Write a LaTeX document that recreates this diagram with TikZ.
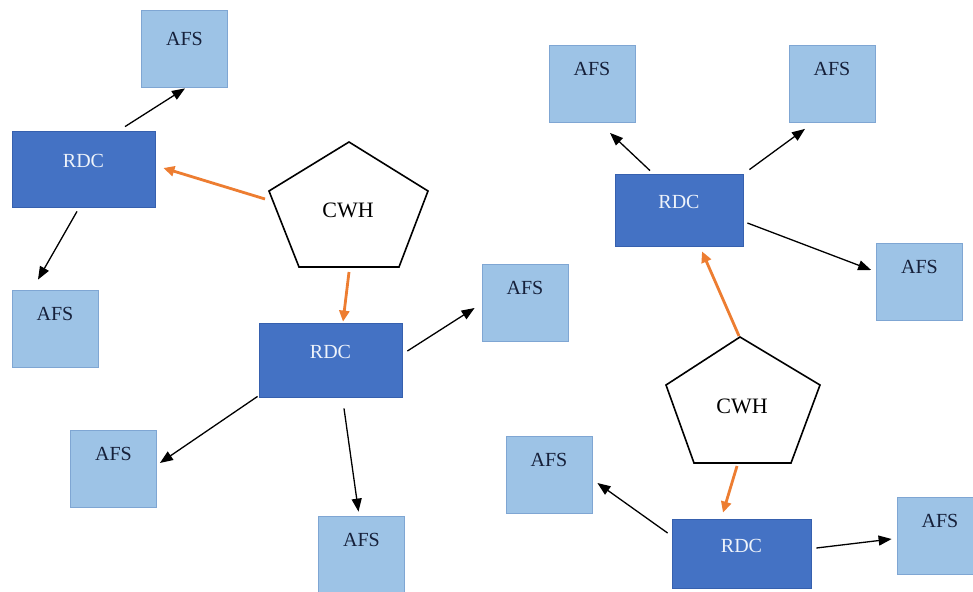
\documentclass[tikz,border=0pt]{standalone}
\usepackage{fontspec}
\setmainfont{Liberation Serif}
\usetikzlibrary{arrows.meta}
\definecolor{afsfill}{HTML}{9DC3E6}
\definecolor{afsdraw}{HTML}{7FA6D3}
\definecolor{rdcfill}{HTML}{4472C4}
\definecolor{rdcdraw}{HTML}{3660AE}
\definecolor{afstext}{HTML}{16203A}
\definecolor{rdctext}{HTML}{EEF3FA}
\definecolor{orng}{HTML}{ED7D31}
\begin{document}
\begin{tikzpicture}[x=1pt,y=-1pt,
  afsbox/.style={rectangle,fill=afsfill,draw=afsdraw,line width=0.8pt,
    minimum width=86pt,minimum height=77pt,inner sep=0pt,text=afstext,
    font=\fontsize{20}{24}\selectfont,text height=7pt,text depth=23.8pt},
  rdcbox/.style={rectangle,fill=rdcfill,draw=rdcdraw,line width=0.8pt,
    minimum width=143pt,minimum height=75pt,inner sep=0pt,text=rdctext,
    font=\fontsize{20}{24}\selectfont,text height=7pt,text depth=9.8pt},
  cwhtext/.style={inner sep=0pt,font=\fontsize{22}{26}\selectfont},
  penta/.style={draw=black,line width=1.6pt,line join=miter,fill=white},
  blk/.style={draw=black,line width=1.3pt,-{Triangle[length=13pt,width=10pt]}},
  org/.style={draw=orng,line width=2.8pt,-{Triangle[length=11pt,width=10pt]}}]
\useasboundingbox (0,0) rectangle (973,591);
\fill[white] (0,0) rectangle (973,591);

% ---------- left cluster ----------
\node[afsbox,text depth=12.8pt] (afs1) at (184.5,48.5) {AFS};
\node[rdcbox,minimum height=76pt] (rdc1) at (83.5,169) {RDC};
\node[afsbox] (afs2) at (55,328.5) {AFS};
\node[rdcbox,minimum height=74pt] (rdc2) at (330.5,360) {RDC};
\node[afsbox] (afs3) at (525,302.5) {AFS};
\node[afsbox] (afs4) at (361.5,554.5) {AFS};
\node[afsbox] (afs5) at (113.5,469) {AFS};

\draw[penta] (349,142) coordinate (c1t) -- (428,191) coordinate (c1r)
  -- (399,267) coordinate (c1br) -- (299,267) coordinate (c1bl)
  -- (269,191) coordinate (c1l) -- cycle;
\node[cwhtext] (cwh1) at (348,210) {CWH};
\coordinate (c1w) at (265,199);
\coordinate (c1s) at (349,272);

\draw[blk] ([shift={(41.5,-4)}]rdc1.north) -- ([shift={(0.5,1)}]afs1.south);
\draw[blk] ([shift={(-6.5,4)}]rdc1.south) -- ([shift={(-17,-10)}]afs2.north);
\draw[org] (c1w) -- ([shift={(8,-1)}]rdc1.east);
\draw[org] (c1s) -- ([shift={(12.5,-1)}]rdc2.north);
\draw[blk] ([shift={(5,-9)}]rdc2.east) -- ([shift={(-7,5.5)}]afs3.west);
\draw[blk] ([shift={(13.5,11)}]rdc2.south) -- ([shift={(-3,-4)}]afs4.north);
\draw[blk] ([shift={(-1,-1)}]rdc2.south west) -- ([shift={(3,-6)}]afs5.east);

% ---------- right cluster ----------
\node[afsbox] (afs6) at (592,84) {AFS};
\node[afsbox] (afs7) at (832,84) {AFS};
\node[rdcbox,minimum width=128pt,minimum height=72pt] (rdc3) at (679,210) {RDC};
\node[afsbox] (afs8) at (919.5,282) {AFS};
\node[afsbox] (afs9) at (549,475) {AFS};
\node[afsbox] (afs10) at (940,535.5) {AFS};
\node[rdcbox,minimum width=139pt,minimum height=69pt] (rdc4) at (741.5,553.5) {RDC};

\draw[penta] (740,337) coordinate (c2t) -- (820,385) coordinate (c2r)
  -- (791,463) coordinate (c2br) -- (694,463) coordinate (c2bl)
  -- (666,385) coordinate (c2l) -- cycle;
\node[cwhtext] (cwh2) at (742,406) {CWH};
\coordinate (c2s) at (737,466);

\draw[blk] ([shift={(-29,-3)}]rdc3.north) -- ([shift={(18,10)}]afs6.south);
\draw[blk] ([shift={(6,-4)}]rdc3.north east) -- ([shift={(-27,6)}]afs7.south);
\draw[blk] ([shift={(4,13)}]rdc3.east) -- ([shift={(-5,-12)}]afs8.west);
\draw[org] ([shift={(-1,-1)}]c2t) -- ([shift={(23,5)}]rdc3.south);
\draw[org] (c2s) -- ([shift={(-18.5,-6)}]rdc4.north);
\draw[blk] ([shift={(-4,-20.5)}]rdc4.west) -- ([shift={(5,8)}]afs9.east);
\draw[blk] ([shift={(5,-5.5)}]rdc4.east) -- ([shift={(-5,3.5)}]afs10.west);
\end{tikzpicture}
\end{document}
